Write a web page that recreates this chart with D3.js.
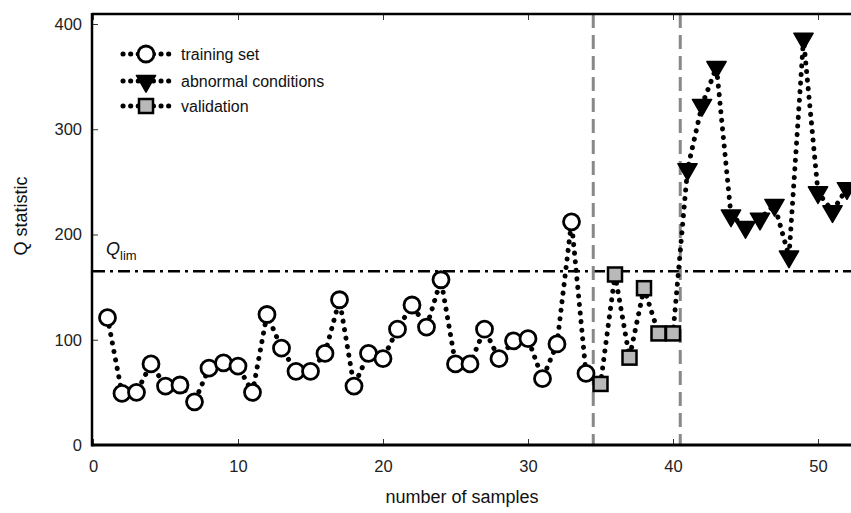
<!DOCTYPE html>
<html><head><meta charset="utf-8">
<script src="https://cdn.jsdelivr.net/npm/d3@7"></script>
<style>
html,body{margin:0;padding:0;background:#fff;}
svg{display:block;font-family:"Liberation Sans",Arial,sans-serif;}
</style></head>
<body>
<svg id="chart" width="851" height="513"></svg>
<script>
// ---- data ----
const trainingX = d3.range(1, 35);
const trainingY = [121,49,50,77,56,57,41,73,78,75,50,124,92,70,70,87,138,56,87,82,110,133,112,157,77,77,110,82,99,101,63,96,212,68];
const validationX = [35,36,37,38,39,40];
const validationY = [58,162,83,149,106,106];
const abnormalX = [41,42,43,44,45,46,47,48,49,50,51,52];
const abnormalY = [262,323,359,218,207,215,228,179,386,240,222,244];
const qLim = 165;
const dividers = [34.5, 40.5];
const xTicks = [0,10,20,30,40,50];
const yTicks = [0,100,200,300,400];
const legendLabels = ["training set","abnormal conditions","validation"];

const svg = d3.select("#chart");
const x = d3.scaleLinear().domain([0, (851-93)/14.5]).range([93, 851]);
const y = d3.scaleLinear().domain([0, 409.5]).range([445, 14]);

const all = trainingX.map((v,i)=>[v,trainingY[i]])
  .concat(validationX.map((v,i)=>[v,validationY[i]]))
  .concat(abnormalX.map((v,i)=>[v,abnormalY[i]]));

// Q lim line
svg.append("line").attr("x1", x(0)).attr("x2", 851).attr("y1", y(qLim)).attr("y2", y(qLim))
  .attr("stroke","#000").attr("stroke-width",2.5).attr("stroke-dasharray","12,5,3,5");

// dividers
dividers.forEach(d=>{
  svg.append("line").attr("x1", x(d)).attr("x2", x(d)).attr("y1", y(409.5)).attr("y2", y(0))
    .attr("stroke","#888").attr("stroke-width",3).attr("stroke-dasharray","14,7");
});

// axes
const gx = svg.append("g").attr("transform",`translate(0,${y(0)})`)
  .call(d3.axisBottom(x).tickValues(xTicks).tickSize(-6).tickPadding(12).tickFormat(d3.format("d")));
const gxt = svg.append("g").attr("transform",`translate(0,${y(409.5)})`)
  .call(d3.axisTop(x).tickValues(xTicks).tickSize(-6).tickFormat(""));
const gy = svg.append("g").attr("transform",`translate(${x(0)-1},0)`)
  .call(d3.axisLeft(y).tickValues(yTicks).tickSize(-6).tickPadding(10));
[gx,gxt,gy].forEach(g=>{
  g.select(".domain").remove();
  g.selectAll(".tick line").attr("stroke","#333").attr("stroke-width",1);
  g.selectAll(".tick text").attr("font-size",16.5).attr("fill","#222")
   .attr("font-family","'Liberation Sans',Arial,sans-serif");
});
gx.selectAll(".tick text").attr("dy","0.9em");
// frame lines
svg.append("line").attr("x1",x(0)-1).attr("x2",851).attr("y1",y(0)).attr("y2",y(0)).attr("stroke","#000").attr("stroke-width",3);
svg.append("line").attr("x1",x(0)-1).attr("x2",851).attr("y1",y(409.5)).attr("y2",y(409.5)).attr("stroke","#000").attr("stroke-width",2.5);
svg.append("line").attr("x1",x(0)-1).attr("x2",x(0)-1).attr("y1",y(409.5)-1).attr("y2",y(0)+1.5).attr("stroke","#000").attr("stroke-width",2.5);

// dotted line
const line = d3.line().x(d=>x(d[0])).y(d=>y(d[1]));
svg.append("path").datum(all).attr("d",line).attr("fill","none").attr("stroke","#000")
  .attr("stroke-width",5).attr("stroke-linecap","round").attr("stroke-dasharray","0.1,8.5");

// markers
const tri = d3.symbol().type(d3.symbolTriangle).size(160);
function drawCircle(g,cx,cy){ g.append("circle").attr("cx",cx).attr("cy",cy).attr("r",8).attr("fill","#fff").attr("stroke","#000").attr("stroke-width",2.8); }
function drawSquare(g,cx,cy){ g.append("rect").attr("x",cx-7).attr("y",cy-7).attr("width",14).attr("height",14).attr("fill","#b9b9b9").attr("stroke","#000").attr("stroke-width",2.5); }
function drawTri(g,cx,cy){ g.append("path").attr("d",tri()).attr("transform",`translate(${cx},${cy}) rotate(180)`).attr("fill","#000").attr("stroke","#000").attr("stroke-width",1.5).attr("stroke-linejoin","round"); }
const mk = svg.append("g");
trainingX.forEach((v,i)=>drawCircle(mk,x(v),y(trainingY[i])));
validationX.forEach((v,i)=>drawSquare(mk,x(v),y(validationY[i])));
abnormalX.forEach((v,i)=>drawTri(mk,x(v),y(abnormalY[i])));

// Q lim label
const ql = svg.append("text").attr("x",106).attr("y",y(qLim)-16).attr("font-size",18).attr("fill","#111");
ql.append("tspan").attr("font-style","italic").text("Q");
ql.append("tspan").attr("font-size",13).attr("dy",5).text("lim");

// legend
const lg = svg.append("g");
const rowsY = [54,81,106];
const drawers = [drawCircle, drawTri, drawSquare];
legendLabels.forEach((lab,i)=>{
  const ry = rowsY[i];
  lg.append("line").attr("x1",123).attr("x2",169).attr("y1",ry).attr("y2",ry)
    .attr("stroke","#000").attr("stroke-width",5).attr("stroke-linecap","round").attr("stroke-dasharray","0.1,7.5");
  drawers[i](lg,146,ry);
  lg.append("text").attr("x",181).attr("y",ry).attr("dy","0.35em").attr("font-size",16).attr("fill","#111").text(lab);
});

// axis titles
svg.append("text").attr("x",462).attr("y",503).attr("text-anchor","middle").attr("font-size",18).attr("fill","#111").text("number of samples");
svg.append("text").attr("transform","translate(27,216) rotate(-90)").attr("text-anchor","middle").attr("font-size",18).attr("fill","#111").text("Q statistic");
</script>
</body></html>
